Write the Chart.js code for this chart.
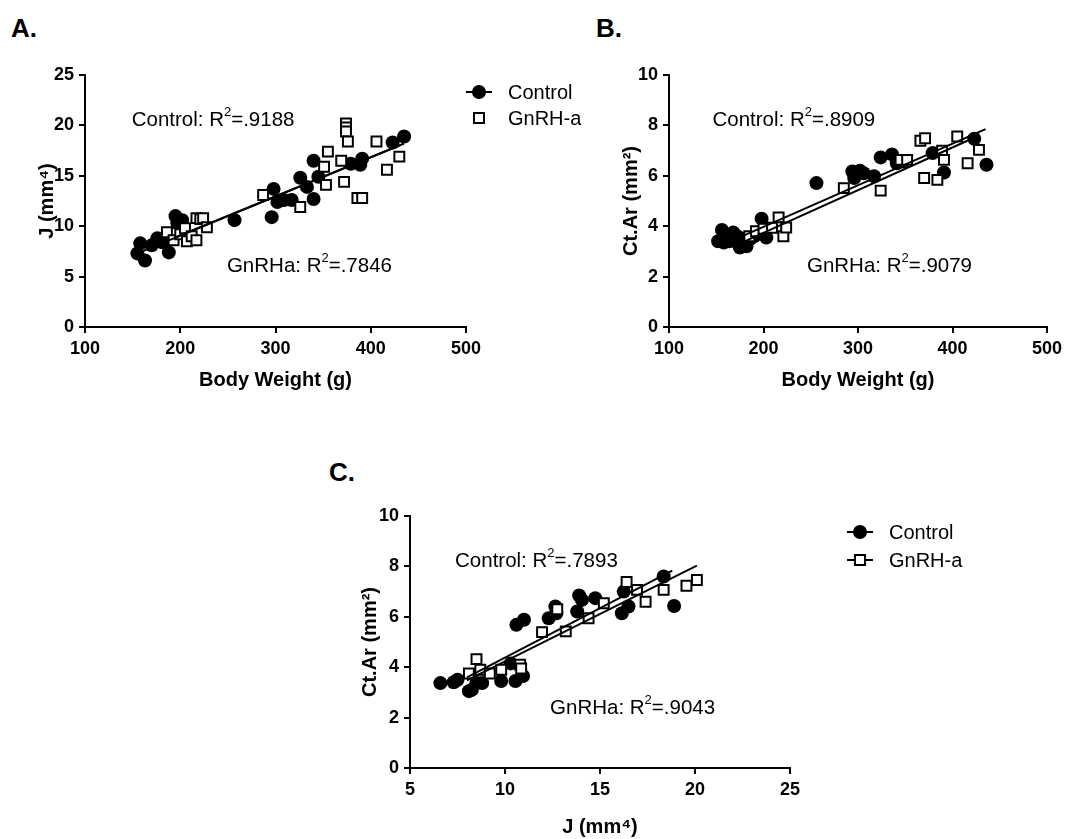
<!DOCTYPE html>
<html>
<head>
<meta charset="utf-8">
<script src="https://cdn.jsdelivr.net/npm/chart.js@4.4.1/dist/chart.umd.min.js"></script>
<style>
  body { margin: 0; background: #fff; width: 1081px; height: 839px; position: relative; overflow: hidden;
         font-family: "Liberation Sans", Arial, sans-serif; }
  canvas { position: absolute; }
  .panel { position: absolute; font-weight: bold; font-size: 26px; color: #000; }
</style>
</head>
<body>
<div class="panel" style="left:11px;top:13px">A.</div>
<div class="panel" style="left:596px;top:13px">B.</div>
<div class="panel" style="left:329px;top:457px">C.</div>
<canvas id="chartA" width="590" height="410" style="left:0;top:0"></canvas>
<canvas id="chartB" width="497" height="410" style="left:584px;top:0"></canvas>
<canvas id="chartC" width="756" height="409" style="left:325px;top:430px"></canvas>
<script>
// ---- data ----
// A: body weight (g) vs J (mm^4)
const ctrlBwA = [155, 163, 158, 170, 176, 181, 188, 195, 197, 202, 257, 296, 298, 302, 309, 317, 326, 333, 340, 340, 345, 379, 389, 391, 423, 435];
const ctrlJA  = [7.3, 6.6, 8.3, 8.1, 8.8, 8.4, 7.4, 11.0, 10.3, 10.6, 10.6, 10.9, 13.7, 12.4, 12.6, 12.6, 14.8, 13.9, 16.5, 12.7, 14.9, 16.2, 16.1, 16.7, 18.3, 18.9];
const gnrhBwA = [186, 193, 200, 205, 207, 212, 217, 217, 221, 224, 228, 287, 326, 351, 353, 355, 369, 372, 374, 374, 374, 376, 386, 391, 406, 417, 430];
const gnrhJA  = [9.4, 8.6, 9.2, 9.8, 8.5, 9.0, 8.6, 10.8, 10.7, 10.8, 9.9, 13.1, 11.9, 15.9, 14.1, 17.4, 16.5, 14.4, 20.2, 19.8, 19.4, 18.4, 12.8, 12.8, 18.4, 15.6, 16.9];
const ctrlFitA_x = [155, 435], ctrlFitA_y = [7.3, 18.2];
const gnrhFitA_x = [195, 430], gnrhFitA_y = [8.9, 18.0];

// B: body weight (g) vs Ct.Ar (mm^2)
const ctrlBwB = [152, 156, 158, 161, 164, 168, 172, 175, 178, 182, 186, 190, 195, 198, 203, 256, 294, 296, 302, 306, 317, 324, 336, 341, 348, 379, 391, 423, 436];
const ctrlArB = [3.4, 3.85, 3.35, 3.6, 3.4, 3.75, 3.6, 3.15, 3.5, 3.2, 3.5, 3.6, 3.7, 4.3, 3.55, 5.71, 6.17, 5.91, 6.2, 6.1, 5.98, 6.73, 6.85, 6.5, 6.57, 6.9, 6.13, 7.47, 6.44];
const gnrhBwB = [185, 192, 200, 209, 216, 221, 224, 285, 324, 345, 352, 366, 371, 370, 384, 389, 391, 405, 416, 428];
const gnrhArB = [3.6, 3.8, 3.9, 3.94, 4.35, 3.6, 3.95, 5.51, 5.41, 6.63, 6.63, 7.39, 7.49, 5.91, 5.84, 7.0, 6.63, 7.56, 6.5, 7.03];
const ctrlFitB_x = [153, 435], ctrlFitB_y = [3.2, 7.85];
const gnrhFitB_x = [180, 428], gnrhFitB_y = [3.4, 7.6];

// C: J (mm^4) vs Ct.Ar (mm^2)
const ctrlJC  = [6.6, 7.3, 7.5, 8.1, 8.25, 8.5, 8.8, 9.8, 10.3, 10.55, 10.6, 10.95, 11.0, 12.3, 12.65, 12.7, 13.8, 13.9, 14.05, 14.75, 16.15, 16.25, 16.5, 18.35, 18.9];
const ctrlArC = [3.37, 3.4, 3.5, 3.05, 3.1, 3.37, 3.37, 3.45, 4.15, 3.45, 5.68, 3.65, 5.88, 5.94, 6.41, 6.14, 6.21, 6.85, 6.67, 6.74, 6.14, 7.0, 6.41, 7.6, 6.43];
const gnrhJC  = [8.1, 8.5, 8.7, 9.2, 9.8, 10.8, 10.85, 11.95, 12.75, 13.2, 14.4, 15.2, 16.4, 16.95, 17.4, 18.35, 19.55, 20.1];
const gnrhArC = [3.75, 4.32, 3.9, 3.75, 3.9, 4.1, 3.95, 5.39, 6.3, 5.42, 5.94, 6.54, 7.38, 7.07, 6.6, 7.07, 7.23, 7.46];
const ctrlFitC_x = [8.0, 18.8], ctrlFitC_y = [3.6, 7.83];
const gnrhFitC_x = [8.0, 20.1], gnrhFitC_y = [3.48, 8.03];

const r2A = [".9188", ".7846"];
const r2B = [".8909", ".9079"];
const r2C = [".7893", ".9043"];

const FONT = "'Liberation Sans', Arial, sans-serif";

function pts(xs, ys) {
  return xs.map((x, i) => ({ x: x, y: ys[i] }));
}

// R^2 notes and the little legends
const panelText = {
  id: "panelText",
  afterDatasetsDraw(chart, args, opts) {
    const ctx = chart.ctx;
    const sx = chart.scales.x, sy = chart.scales.y;
    ctx.save();
    ctx.fillStyle = "#000";
    ctx.strokeStyle = "#000";
    ctx.textBaseline = "middle";
    ctx.textAlign = "left";
    (opts.notes || []).forEach(n => {
      let x = sx.getPixelForValue(n.x);
      const y = sy.getPixelForValue(n.y);
      ctx.font = "20.5px " + FONT;
      ctx.fillText(n.label + ": R", x, y);
      x += ctx.measureText(n.label + ": R").width;
      ctx.font = "13px " + FONT;
      ctx.fillText("2", x, y - 8);
      x += ctx.measureText("2").width;
      ctx.font = "20.5px " + FONT;
      ctx.fillText("=" + n.r2, x, y);
    });
    (opts.legend || []).forEach(it => {
      ctx.lineWidth = 2;
      if (it.line) {
        ctx.beginPath();
        ctx.moveTo(it.x - 13, it.y);
        ctx.lineTo(it.x + 13, it.y);
        ctx.stroke();
      }
      if (it.shape === "circle") {
        ctx.beginPath();
        ctx.arc(it.x, it.y, 7, 0, Math.PI * 2);
        ctx.fill();
      } else {
        ctx.fillStyle = "#fff";
        ctx.fillRect(it.x - 5, it.y - 5, 10, 10);
        ctx.fillStyle = "#000";
        ctx.strokeRect(it.x - 5, it.y - 5, 10, 10);
      }
      ctx.font = "20px " + FONT;
      ctx.fillText(it.text, it.x + 29, it.y + 1);
    });
    ctx.restore();
  }
};

function axis(o) {
  return {
    type: "linear",
    min: o.min, max: o.max,
    grid: { drawOnChartArea: false, drawTicks: true, tickLength: 6, color: "#000", lineWidth: 2 },
    border: { display: true, color: "#000", width: 2 },
    ticks: { stepSize: o.step, color: "#000", padding: 5, font: { family: FONT, size: 18, weight: "bold" } },
    title: { display: true, text: o.title, color: "#000", padding: 0,
             font: { family: FONT, size: 20, weight: "bold", lineHeight: 1.2 } },
    afterFit: o.fit
  };
}

function makePanel(id, p) {
  const ds = [
    { type: "line", data: pts(p.ctrlFit[0], p.ctrlFit[1]), borderColor: "#000", borderWidth: 2,
      pointRadius: 0, showLine: true, fill: false, order: 0 },
    { type: "line", data: pts(p.gnrhFit[0], p.gnrhFit[1]), borderColor: "#000", borderWidth: 2,
      pointRadius: 0, showLine: true, fill: false, order: 0 },
    { label: "GnRH-a", data: pts(p.gnrh[0], p.gnrh[1]), pointStyle: "rect", pointRadius: 7,
      backgroundColor: "#fff", borderColor: "#000", borderWidth: 2, order: 1 },
    { label: "Control", data: pts(p.ctrl[0], p.ctrl[1]), pointStyle: "circle", pointRadius: 7,
      backgroundColor: "#000", borderColor: "#000", borderWidth: 0, order: 2 }
  ];
  return new Chart(document.getElementById(id), {
    type: "scatter",
    data: { datasets: ds },
    options: {
      responsive: false,
      animation: false,
      devicePixelRatio: 1,
      layout: { padding: p.pad },
      plugins: {
        legend: { display: false },
        tooltip: { enabled: false },
        panelText: { notes: p.notes, legend: p.legend }
      },
      scales: {
        x: axis(Object.assign({ fit: s => { s.height = p.xH; } }, p.x)),
        y: axis(Object.assign({ fit: s => { s.width = p.yW; } }, p.y))
      }
    },
    plugins: [panelText]
  });
}

makePanel("chartA", {
  ctrl: [ctrlBwA, ctrlJA], gnrh: [gnrhBwA, gnrhJA],
  ctrlFit: [ctrlFitA_x, ctrlFitA_y], gnrhFit: [gnrhFitA_x, gnrhFitA_y],
  x: { min: 100, max: 500, step: 100, title: "Body Weight (g)" },
  y: { min: 0, max: 25, step: 5, title: "J (mm\u2074)" },
  pad: { left: 35, top: 75, right: 124, bottom: 18 }, yW: 50, xH: 65,
  notes: [{ label: "Control", r2: r2A[0], x: 149, y: 20.5 }, { label: "GnRHa", r2: r2A[1], x: 249, y: 6.0 }],
  legend: [{ text: "Control", shape: "circle", line: true, x: 479, y: 92 },
           { text: "GnRH-a", shape: "rect", line: false, x: 479, y: 118 }]
});

makePanel("chartB", {
  ctrl: [ctrlBwB, ctrlArB], gnrh: [gnrhBwB, gnrhArB],
  ctrlFit: [ctrlFitB_x, ctrlFitB_y], gnrhFit: [gnrhFitB_x, gnrhFitB_y],
  x: { min: 100, max: 500, step: 100, title: "Body Weight (g)" },
  y: { min: 0, max: 10, step: 2, title: "Ct.Ar (mm\u00b2)" },
  pad: { left: 35, top: 75, right: 34, bottom: 18 }, yW: 50, xH: 65,
  notes: [{ label: "Control", r2: r2B[0], x: 146, y: 8.2 }, { label: "GnRHa", r2: r2B[1], x: 246, y: 2.42 }],
  legend: []
});

makePanel("chartC", {
  ctrl: [ctrlJC, ctrlArC], gnrh: [gnrhJC, gnrhArC],
  ctrlFit: [ctrlFitC_x, ctrlFitC_y], gnrhFit: [gnrhFitC_x, gnrhFitC_y],
  x: { min: 5, max: 25, step: 5, title: "J (mm\u2074)" },
  y: { min: 0, max: 10, step: 2, title: "Ct.Ar (mm\u00b2)" },
  pad: { left: 33, top: 86, right: 291, bottom: 0 }, yW: 52, xH: 71,
  notes: [{ label: "Control", r2: r2C[0], x: 7.37, y: 8.19 }, { label: "GnRHa", r2: r2C[1], x: 12.37, y: 2.37 }],
  legend: [{ text: "Control", shape: "circle", line: true, x: 535, y: 102 },
           { text: "GnRH-a", shape: "rect", line: true, x: 535, y: 130 }]
});
</script>
</body>
</html>
